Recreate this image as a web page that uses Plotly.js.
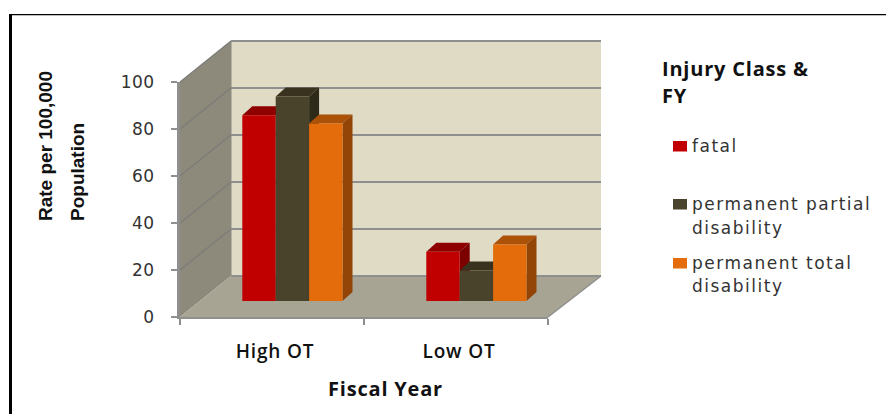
<!DOCTYPE html>
<html><head><meta charset="utf-8">
<script src="https://cdn.plot.ly/plotly-3.0.1.min.js"></script>
<style>html,body{margin:0;padding:0;background:#fff;overflow:hidden}
text.annotation-text[style*="DejaVu"]{letter-spacing:1.5px}
text.annotation-text[style*="Open Sans"]{letter-spacing:0.8px}
.xaxislayer-above .xtick text{letter-spacing:0.8px}
.yaxislayer-above .ytick text{letter-spacing:0.5px}
</style>
</head><body><div id="chart" style="width:886px;height:414px"></div>
<script>
const categories = ["High OT", "Low OT"];
const seriesNames = ["fatal", "permanent partial disability", "permanent total disability"];
const fatal = [79, 21];
const partial = [87, 13];
const total = [75.5, 24];
const yTicks = [0, 20, 40, 60, 80, 100];
const xTitleText = "Fiscal Year";
const yTitleLines = ["Rate per 100,000", "Population"];
const legendTitleLines = ["Injury Class &", "FY"];
const legendLines = [["fatal"], ["permanent partial", "disability"], ["permanent total", "disability"]];

const frontColors = ["#c00000", "#4a432b", "#e46c0a"];
const topColors = ["#8f0000", "#38321f", "#ab5108"];
const sideColors = ["#7c0000", "#2e2a1a", "#924507"];

const W = 886, H = 414;
const px = x => x / W, py = y => 1 - y / H;
const X0 = 180, X1 = 548, Y0 = 317, Y100 = 82;
const pxPerCat = (X1 - X0) / 2, pxPerUnit = (Y0 - Y100) / 100;
const wallDx = 51, wallDy = 41;
const barShiftY = 16;
const barW = 33.4 / pxPerCat;
const depthX = 10 / pxPerCat, depthY = 9 / pxPerUnit;

const all = [fatal, partial, total];
const traces = [];
traces.push({type: "scatter", mode: "none", x: categories, y: [0, 0], xaxis: "x", yaxis: "y",
  showlegend: false, hoverinfo: "skip"});
all.forEach((vals, s) => {
  const tx = [], ty = [], sx = [], sy = [];
  vals.forEach((v, c) => {
    const l = c + (s - 1.5) * barW, r = l + barW;
    tx.push(l, r, r + depthX, l + depthX, l, null);
    ty.push(v, v, v + depthY, v + depthY, v, null);
    sx.push(r, r + depthX, r + depthX, r, r, null);
    sy.push(v, v + depthY, depthY, 0, v, null);
  });
  traces.push({type: "scatter", mode: "lines", x: tx, y: ty, fill: "toself", fillcolor: topColors[s],
    line: {width: 0}, xaxis: "x2", yaxis: "y2", showlegend: false, hoverinfo: "skip"});
  traces.push({type: "scatter", mode: "lines", x: sx, y: sy, fill: "toself", fillcolor: sideColors[s],
    line: {width: 0}, xaxis: "x2", yaxis: "y2", showlegend: false, hoverinfo: "skip"});
});
all.forEach((vals, s) => {
  traces.push({type: "bar", name: seriesNames[s], x: [0, 1], y: vals, marker: {color: frontColors[s]},
    xaxis: "x3", yaxis: "y3", showlegend: false});
});

const overlayX = [-(292.4 - X0) / pxPerCat, (X1 - 292.4) / pxPerCat];
const overlayY = [-barShiftY / pxPerUnit, (Y0 - barShiftY - Y100) / pxPerUnit];
const dom = {x: [px(X0), px(X1)], y: [py(Y0), py(Y100)]};

const line = (x0, y0, x1, y1, color, width) => ({type: "line", xref: "paper", yref: "paper",
  x0: px(x0), y0: py(y0), x1: px(x1), y1: py(y1), line: {color, width}, layer: "below"});
const poly = (pts, fill) => ({type: "path", xref: "paper", yref: "paper", layer: "below",
  path: pts.map((p, i) => (i ? "L" : "M") + px(p[0]) + "," + py(p[1])).join(" ") + " Z",
  fillcolor: fill, line: {width: 0}});
const rect = (x0, y0, x1, y1, fill) => ({type: "rect", xref: "paper", yref: "paper", layer: "below",
  x0: px(x0), y0: py(y0), x1: px(x1), y1: py(y1), fillcolor: fill, line: {width: 0}});

const BX = X0 + wallDx, BY = Y0 - wallDy, RX = 601;
const shapes = [
  rect(BX, BY - 235, RX, BY, "#dfdbc5"),
  poly([[X0, Y0], [BX, BY], [BX, BY - 235], [X0, Y100]], "#8d8a7c"),
  poly([[X0, Y0], [X1, Y0], [RX, BY], [BX, BY]], "#a7a493"),
];
yTicks.filter(t => t > 0).forEach(t => {
  const y = BY - t * pxPerUnit;
  shapes.push(line(BX, y, RX, y, "#8f8f8f", 2));
  shapes.push(line(X0, Y0 - t * pxPerUnit, BX, y, "#7b7b78", 1.2));
});
shapes.push(line(BX, BY, RX, BY, "#8f8f8f", 2));
shapes.push(line(BX, BY - 235, BX, BY, "#8a8a80", 1));
shapes.push(line(X1, Y0, RX, BY, "#8f8f8f", 1.5));
shapes.push(rect(9, 14, 12, H, "#000000"));
shapes.push(rect(9, 14, W, 15.3, "#000000"));

const boldFont = {family: "Open Sans", size: 20, color: "#111111", weight: 700};
const annotations = [];
const note = (text, x, y, font, extra) => annotations.push(Object.assign({text, xref: "paper", yref: "paper",
  x: px(x), y: py(y), showarrow: false, xanchor: "left", yanchor: "middle", font}, extra || {}));

note(yTitleLines[0], 46, 223, {family: "Liberation Sans", size: 19, color: "#111", weight: 700},
  {textangle: -90, xanchor: "center", yanchor: "bottom"});
note(yTitleLines[1], 78, 223, {family: "Liberation Sans", size: 19, color: "#111", weight: 700},
  {textangle: -90, xanchor: "center", yanchor: "bottom"});
note(xTitleText, 385, 388, boldFont, {xanchor: "center"});
note(legendTitleLines[0], 660, 68, boldFont);
note(legendTitleLines[1], 660, 95, boldFont);
const legendFont = {family: "DejaVu Sans", size: 17, color: "#333333"};
const legendY = [[146], [204, 228], [263, 286]];
legendLines.forEach((lines, i) => {
  lines.forEach((t, j) => note(t, 690, legendY[i][j], legendFont));
  shapes.push(rect(673, legendY[i][0] - 5, 687, legendY[i][0] + 5.5, frontColors[i]));
});

const layout = {
  width: W, height: H, margin: {l: 0, r: 0, t: 0, b: 0}, paper_bgcolor: "#fff", plot_bgcolor: "rgba(0,0,0,0)",
  showlegend: false, barmode: "group", bargap: 1 - 3 * barW, bargroupgap: 0,
  shapes, annotations,
  xaxis: {domain: dom.x, type: "category", categoryorder: "array", categoryarray: categories, range: [-0.5, 1.5],
    tickson: "boundaries", ticks: "outside", ticklen: 6, tickwidth: 2, tickcolor: "#8f8f8f",
    showline: true, linecolor: "#8f8f8f", linewidth: 2, showgrid: false, zeroline: false, ticklabelshift: 3,
    ticklabelstandoff: 16, tickfont: {family: "Open Sans", size: 19, color: "#111", weight: 600}, anchor: "y", fixedrange: true},
  yaxis: {domain: dom.y, range: [0, 100], tickvals: yTicks, ticks: "outside", ticklen: 6, tickwidth: 2, tickcolor: "#8f8f8f",
    showline: true, linecolor: "#8f8f8f", linewidth: 3, showgrid: false, zeroline: false,
    ticklabelstandoff: 13, tickfont: {family: "DejaVu Sans", size: 17, color: "#333"}, anchor: "x", fixedrange: true},
  xaxis2: {domain: dom.x, overlaying: "x", anchor: "y2", range: overlayX, visible: false, fixedrange: true},
  yaxis2: {domain: dom.y, overlaying: "y", anchor: "x2", range: overlayY, visible: false, fixedrange: true},
  xaxis3: {domain: dom.x, overlaying: "x", anchor: "y3", range: overlayX, visible: false, fixedrange: true},
  yaxis3: {domain: dom.y, overlaying: "y", anchor: "x3", range: overlayY, visible: false, fixedrange: true},
};
Plotly.newPlot("chart", traces, layout, {displayModeBar: false, staticPlot: true});
</script></body></html>
